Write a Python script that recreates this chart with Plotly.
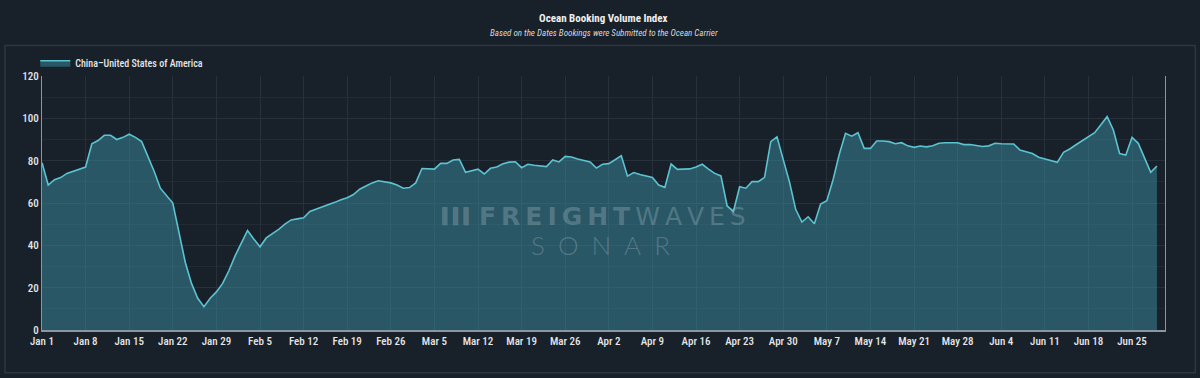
import plotly.graph_objects as go
import pandas as pd

start_date = "2023-01-01"
series_name = "China–United States of America"
booking_index = [
    79, 68.5, 71, 72, 74, 75, 76, 77, 88, 89.5,
    92, 92, 90, 91, 92.5, 91, 89, 82, 75, 67,
    63.5, 60, 46, 32, 22, 15, 11, 15, 18, 22,
    28, 35, 41, 47, 43, 39.3, 43.5, 45.5, 47.5, 50,
    52, 52.5, 53, 56, 57, 58, 59, 60.3, 61.5, 62.5,
    64, 66.5, 68, 69.5, 70.5, 70, 69.5, 68.5, 67, 67.3,
    69.5, 76.3, 76.3, 76, 78.7, 78.7, 80.3, 80.6, 74.5, 75.3,
    76, 73.7, 76.4, 77, 78.5, 79.3, 79.5, 76.7, 78.3, 77.8,
    77.5, 77.2, 80.3, 79.4, 82, 81.7, 80.8, 80, 79.4, 76.5,
    78.3, 78.6, 80.5, 82.3, 72.7, 74.4, 73.5, 72.7, 72.1, 68.5,
    67.4, 78.4, 75.9, 76, 76.1, 77, 78.3, 76, 74, 72.8,
    58.6, 56, 67.7, 67, 70.1, 70.1, 72.1, 89, 91.3, 80.5,
    70, 57, 51, 53.5, 50.2, 59.5, 61.1, 71, 83, 92.9,
    91.6, 93.2, 85.8, 85.8, 89.3, 89.3, 89, 88, 88.5, 87,
    86.3, 86.9, 86.5, 87, 88.2, 88.5, 88.6, 88.5, 87.6, 87.6,
    87.2, 86.7, 87, 88.2, 88, 88, 87.9, 85, 84.2, 83.4,
    81.6, 80.8, 79.8, 79.2, 83.9, 85.5, 87.5, 89.4, 91.5, 93.2,
    97, 100.8, 94.5, 83.4, 82.7, 91, 88.2, 81.1, 74.5, 77.5,
]
dates = pd.date_range(start_date, periods=len(booking_index), freq="D")
tick_dates = pd.date_range(start_date, "2023-06-25", freq="7D")
y_ticks = [0, 20, 40, 60, 80, 100, 120]

BG = "#18202a"
FONT = "Roboto Condensed, Liberation Sans Narrow, Roboto, Arial, sans-serif"
WM = "rgba(150,172,182,0.40)"

fig = go.Figure()
fig.add_trace(go.Scatter(
    x=dates, y=booking_index, name=series_name, mode="lines",
    line=dict(color="#5cc3d0", width=1.6),
    fill="tozeroy", fillcolor="rgba(58,138,158,0.52)",
))

fig.update_layout(
    width=1200, height=378,
    paper_bgcolor=BG, plot_bgcolor=BG,
    margin=dict(l=42, r=35, t=76, b=48),
    font=dict(family=FONT, color="#e6e6e6", size=11),
    showlegend=True,
    legend=dict(x=-0.006, y=1.052, xanchor="left", yanchor="middle",
                orientation="h", bgcolor="rgba(0,0,0,0)", itemwidth=30,
                font=dict(size=10, color="#e6e6e6", family=FONT, weight=500)),
)

fig.update_xaxes(
    range=["2023-01-01", "2023-06-30 07:00"],
    tickvals=tick_dates, ticktext=[d.strftime("%b ") + str(d.day) for d in tick_dates],
    showgrid=True, gridcolor="#27313c", gridwidth=1,
    showline=True, linecolor="#8a96a0", linewidth=1.5,
    ticks="", tickfont=dict(size=11, color="#e6e6e6", weight=500), zeroline=False,
)
fig.update_yaxes(
    range=[0, 120], tickvals=y_ticks,
    showgrid=True, gridcolor="#27313c", gridwidth=1,
    minor=dict(dtick=10, showgrid=True, gridcolor="#222b35"),
    showline=True, linecolor="#8a96a0", linewidth=1.2, mirror=True,
    ticks="", tickfont=dict(size=11, color="#e6e6e6", weight=500), zeroline=False,
)

fig.add_annotation(text="<b>Ocean Booking Volume Index</b>", xref="paper", yref="paper",
                   x=0.5, y=1, yshift=58, showarrow=False, yanchor="middle",
                   font=dict(size=11, color="#f0f0f0", family=FONT))
fig.add_annotation(text="<i>Based on the Dates Bookings were Submitted to the Ocean Carrier</i>",
                   xref="paper", yref="paper", x=0.5, y=1, yshift=43, showarrow=False,
                   yanchor="middle", font=dict(size=9, color="#d8d8d8", family=FONT))
# watermark
fig.add_annotation(text="<b>F\u2009R\u2009E\u2009I\u2009G\u2009H\u2009T</b>\u2009W\u2009A\u2009V\u2009E\u2009S",
                   xref="paper", yref="paper", x=0.508, y=0.445, showarrow=False,
                   font=dict(size=25, color=WM, family="DejaVu Sans, Arial, sans-serif"))
fig.add_annotation(text="S\u2002O\u2002N\u2002A\u2002R", xref="paper", yref="paper",
                   x=0.497, y=0.335, showarrow=False,
                   font=dict(size=26, color=WM, family="Lato, Arial, sans-serif", weight=300))
fig.add_annotation(text="▐▐▐", xref="paper", yref="paper", x=0.366, y=0.445,
                   showarrow=False, font=dict(size=15, color=WM))

# outer panel border
fig.add_shape(type="rect", xref="paper", yref="paper",
              x0=-0.033, x1=1.027, y0=-0.168, y1=1.12,
              line=dict(color="#2c3641", width=1.5), fillcolor="rgba(0,0,0,0)", layer="below")

fig.write_html("out.html", config={"displayModeBar": False},
               post_script="document.body.style.margin='0';document.body.style.background='#18202a';")
